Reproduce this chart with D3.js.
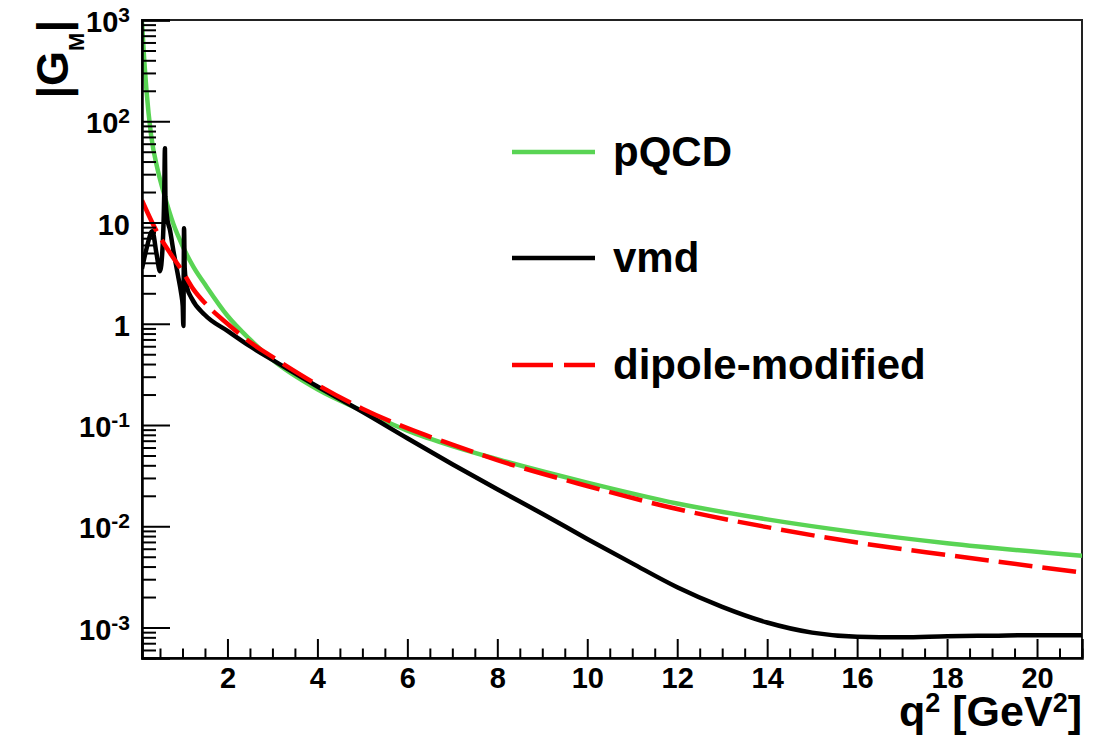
<!DOCTYPE html>
<html>
<head>
<meta charset="utf-8">
<script src="https://cdn.jsdelivr.net/npm/d3@7"></script>
<style>
  body { margin: 0; background: #fff; }
  text { font-family: "Liberation Sans", Arial, Helvetica, sans-serif; font-weight: bold; fill: #000; }
</style>
</head>
<body>
<svg id="vis"></svg>
<script>
// Datos (q^2 en GeV^2, |G_M|)
const qPQCD = [0.1, 0.15, 0.2, 0.3, 0.45, 0.6, 0.8, 1.0, 1.25, 1.5, 2.0, 2.5, 3.0, 4.0, 5.0, 6.0, 7.0, 8.0, 10, 12, 14, 16, 18, 21];
const gPQCD = [950, 400, 200, 74, 33, 18.5, 9.6, 5.9, 3.6, 2.45, 1.2, 0.7, 0.44, 0.225, 0.138, 0.088, 0.062, 0.046, 0.027, 0.0168, 0.0117, 0.0087, 0.0068, 0.0051];

const qVMD = [0.1, 0.2, 0.33, 0.42, 0.5, 0.56, 0.595, 0.61, 0.62, 0.66, 0.72, 0.8, 0.9, 0.97, 1.005, 1.02, 1.035, 1.05, 1.1, 1.2, 1.5, 2.0, 2.5, 3.0, 4.0, 5.0, 6.0, 7.0, 8.0, 9.0, 10, 11, 12, 13, 14, 15, 16, 17, 18, 19, 20, 21];
const gVMD = [3.5, 5.5, 8.2, 5.0, 3.3, 6, 20, 54, 18, 11, 8.5, 5.2, 3.0, 2.0, 1.5, 0.95, 8.8, 3.5, 2.3, 1.8, 1.22, 0.85, 0.6, 0.44, 0.24, 0.135, 0.074, 0.041, 0.0232, 0.0133, 0.0075, 0.0043, 0.0025, 0.0016, 0.00112, 0.00089, 0.00081, 0.0008, 0.00082, 0.00083, 0.00084, 0.00084];

const qDip = [0.1, 0.4, 0.75, 1.0, 1.24, 1.5, 2.0, 2.5, 3.0, 4.0, 5.0, 6.0, 7.0, 8.0, 10, 12, 14, 16, 18, 21];
const gDip = [16.5, 8.6, 4.8, 3.3, 2.2, 1.6, 1.0, 0.66, 0.47, 0.25, 0.145, 0.093, 0.064, 0.045, 0.025, 0.0148, 0.0098, 0.0069, 0.0052, 0.0035];

const series = [
  { name: "pQCD", q: qPQCD, g: gPQCD, color: "#59d454", dash: null },
  { name: "vmd", q: qVMD, g: gVMD, color: "#000000", dash: null },
  { name: "dipole-modified", q: qDip, g: gDip, color: "#ff0000", dash: "34,10" },
];

const xMajor = [2, 4, 6, 8, 10, 12, 14, 16, 18, 20];
const yMajor = [1e3, 1e2, 10, 1, 1e-1, 1e-2, 1e-3];
const yLabels = [["10", "3"], ["10", "2"], ["10", ""], ["1", ""], ["10", "-1"], ["10", "-2"], ["10", "-3"]];

const WIDTH = 1095;
const HEIGHT = 736;
const FRAME = { left: 142, right: 1082, top: 20, bottom: 658 };

const svg = d3.select("#vis").attr("width", WIDTH).attr("height", HEIGHT);

const x = d3.scaleLinear().domain([0.1, 21]).range([FRAME.left, FRAME.right]);
const y = d3.scaleLog().domain([5e-4, 1000]).range([FRAME.bottom, FRAME.top]);

// marco
svg.append("rect")
  .attr("x", FRAME.left).attr("y", FRAME.top)
  .attr("width", FRAME.right - FRAME.left).attr("height", FRAME.bottom - FRAME.top)
  .attr("fill", "none").attr("stroke", "#222").attr("stroke-width", 2);

// curvas
svg.append("clipPath").attr("id", "clip").append("rect")
  .attr("x", FRAME.left).attr("y", FRAME.top)
  .attr("width", FRAME.right - FRAME.left).attr("height", FRAME.bottom - FRAME.top);

const line = d3.line().curve(d3.curveMonotoneX);
const plot = svg.append("g").attr("clip-path", "url(#clip)");
series.forEach(s => {
  plot.append("path")
    .attr("d", line(s.q.map((q, i) => [x(q), y(s.g[i])])))
    .attr("fill", "none")
    .attr("stroke", s.color)
    .attr("stroke-width", 4.5)
    .attr("stroke-linejoin", "round")
    .attr("stroke-dasharray", s.dash);
});

// eje X
const xMinor = d3.range(0.5, 21.01, 0.5).filter(v => v % 2 !== 0);
svg.append("g")
  .attr("transform", `translate(0,${FRAME.bottom})`)
  .call(d3.axisBottom(x).tickValues(xMinor).tickSize(-9.5).tickFormat(""))
  .call(g => g.select(".domain").remove())
  .call(g => g.selectAll("line").attr("stroke", "#000").attr("stroke-width", 2));
const gx = svg.append("g")
  .attr("transform", `translate(0,${FRAME.bottom})`)
  .call(d3.axisBottom(x).tickValues(xMajor).tickSize(-19).tickPadding(0).tickFormat(d3.format("d")));
gx.select(".domain").attr("stroke", "#000").attr("stroke-width", 2.5);
gx.selectAll("line").attr("stroke", "#000").attr("stroke-width", 2);
gx.selectAll("text")
  .attr("y", 30).attr("dy", 0)
  .style("font-size", "29px");

// eje Y
const yMinor = [];
[-4, -3, -2, -1, 0, 1, 2].forEach(e => {
  for (let k = 2; k <= 9; k++) {
    const v = k * Math.pow(10, e);
    if (v >= 5e-4 && v <= 1000) yMinor.push(v);
  }
});
svg.append("g")
  .attr("transform", `translate(${FRAME.left},0)`)
  .call(d3.axisLeft(y).tickValues(yMinor).tickSize(-14).tickFormat(""))
  .call(g => g.select(".domain").remove())
  .call(g => g.selectAll("line").attr("stroke", "#000").attr("stroke-width", 2));
const gy = svg.append("g")
  .attr("transform", `translate(${FRAME.left},0)`)
  .call(d3.axisLeft(y).tickValues(yMajor).tickSize(-28).tickFormat(""));
gy.select(".domain").attr("stroke", "#000").attr("stroke-width", 2.5);
gy.selectAll("line").attr("stroke", "#000").attr("stroke-width", 2);

const yLab = svg.append("g");
yMajor.forEach((v, i) => {
  const t = yLab.append("text")
    .attr("x", 130)
    .attr("y", y(v) + 12)
    .attr("text-anchor", "end")
    .style("font-size", "29px");
  t.append("tspan").text(yLabels[i][0]);
  if (yLabels[i][1]) {
    t.append("tspan").attr("dy", -10).style("font-size", "21px").text(yLabels[i][1]);
  }
});

// títulos de ejes
const xt = svg.append("text")
  .attr("x", FRAME.right)
  .attr("y", 726)
  .attr("text-anchor", "end")
  .style("font-size", "43px");
xt.append("tspan").text("q");
xt.append("tspan").attr("dy", -14).style("font-size", "27px").text("2");
xt.append("tspan").attr("dy", 14).text(" [GeV");
xt.append("tspan").attr("dy", -14).style("font-size", "27px").text("2");
xt.append("tspan").attr("dy", 14).text("]");

const yt = svg.append("text")
  .attr("transform", `translate(68,${FRAME.top}) rotate(-90)`)
  .attr("text-anchor", "end")
  .style("font-size", "45px");
yt.append("tspan").text("|G");
yt.append("tspan").attr("dy", 16).style("font-size", "22px").text("M");
yt.append("tspan").attr("dy", -16).text("|");

// leyenda
const legY = [152, 258, 365];
series.forEach((s, i) => {
  svg.append("line")
    .attr("x1", 512).attr("x2", 595)
    .attr("y1", legY[i]).attr("y2", legY[i])
    .attr("stroke", s.color)
    .attr("stroke-width", 4.5)
    .attr("stroke-dasharray", s.dash ? "41,11" : null);
  svg.append("text")
    .attr("x", 613)
    .attr("y", legY[i] + 14)
    .style("font-size", "42px")
    .text(s.name);
});
</script>
</body>
</html>
